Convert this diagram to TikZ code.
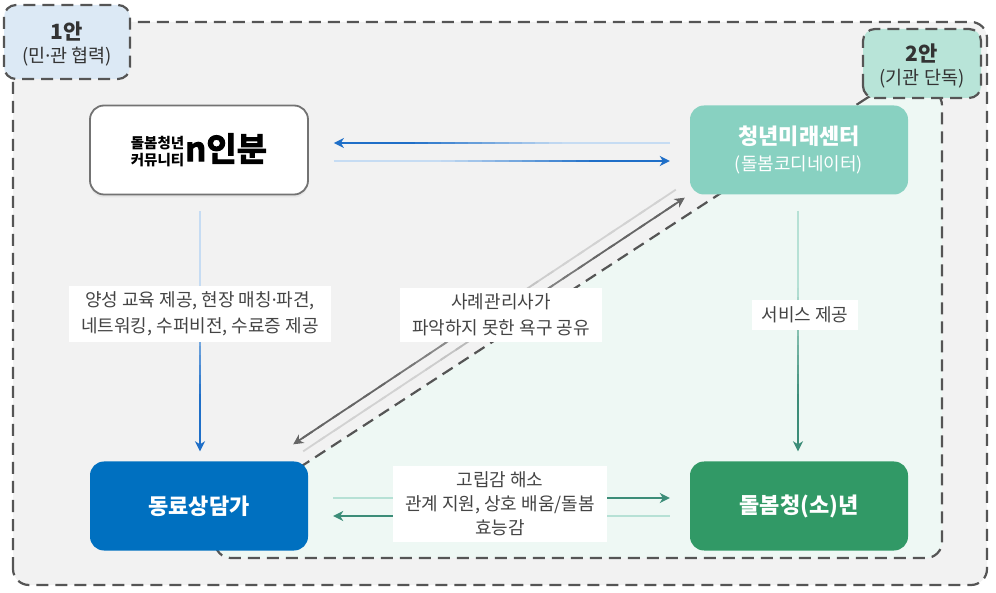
\documentclass[tikz,border=0pt]{standalone}
\usepackage{fontspec}
\setmainfont{Noto Sans CJK KR}
\newfontfamily\logofont{Noto Sans CJK KR Bold}[FakeBold=3]
\newfontfamily\dotfont{Noto Sans}
\usepackage{tikz}
\usetikzlibrary{arrows.meta}
\usetikzlibrary{calc}
\usetikzlibrary{shadows}
\definecolor{zonegray}{HTML}{F2F2F2}
\definecolor{zonemint}{HTML}{EEF8F4}
\definecolor{dashgray}{HTML}{555555}
\definecolor{tagblue}{HTML}{DCE9F5}
\definecolor{tagmint}{HTML}{B8E4D8}
\definecolor{centermint}{HTML}{88D1C1}
\definecolor{peerblue}{HTML}{0070C0}
\definecolor{youthgreen}{HTML}{319966}
\definecolor{labelgray}{HTML}{444444}
\definecolor{bluelight}{HTML}{C6DCF3}
\definecolor{bluedark}{HTML}{1F6FC8}
\definecolor{teallight}{HTML}{B6E1D5}
\definecolor{tealdark}{HTML}{3C8D78}
\definecolor{graylight}{HTML}{D2D2D2}
\definecolor{graydark}{HTML}{666666}
\newcommand{\mdot}{{\dotfont ·}}
\tikzset{zone/.style={draw=dashgray, line width=2.2pt, dash pattern=on 12pt off 7pt, rounded corners=16pt}}
\tikzset{tag/.style={zone, rounded corners=12pt}}
\tikzset{tagtext/.style={text=black!80, align=center, inner sep=0pt}}
\tikzset{box/.style={rounded corners=14pt, minimum width=218pt, minimum height=89pt, inner sep=0pt, align=center, text=white}}
\tikzset{lbl/.style={fill=white, text=labelgray, align=center, inner xsep=12pt, inner ysep=6pt, font=\fontsize{18}{26}\selectfont}}
% gradient connector: from, to, light colour, dark colour
\newcommand{\fadearrow}[4]{
  \foreach \i in {0,...,23}{
    \pgfmathsetmacro\ta{\i/25}
    \pgfmathsetmacro\tb{(\i+1.4)/25}
    \pgfmathsetmacro\mix{max(0,min(100,(\i/25-0.3)*220))}
    \draw[line width=1.8pt, color=#4!\mix!#3] ($(#1)!\ta!(#2)$) -- ($(#1)!\tb!(#2)$);
  }
  \draw[line width=1.8pt, color=#4, -{Stealth[length=10pt,width=10pt,inset=3pt]}]
    ($(#1)!0.95!(#2)$) -- (#2);
}

\begin{document}
\begin{tikzpicture}[x=1pt,y=1pt]
  \useasboundingbox (0,0) rectangle (996,592);
  % zones
  \filldraw[zone, fill=zonegray] (13,7) rectangle (987,570);
  \filldraw[zone, fill=zonemint] (880,502.5) -- (215,69.5) -- (215,34)
    -- (942,34) -- (942,502.5) -- cycle;
  \filldraw[tag, fill=tagblue] (4,513) rectangle (130,587);
  \filldraw[tag, fill=tagmint] (863,494) rectangle (981,563);
  \node[tagtext] (tag1) at (67,548)
    {{\bfseries\fontsize{21}{24}\selectfont 1안}\\[5pt]{\fontsize{18.5}{22}\selectfont (민\mdot 관 협력)}};
  \node[tagtext] (tag2) at (922,526)
    {{\bfseries\fontsize{21}{24}\selectfont 2안}\\[5pt]{\fontsize{18.5}{22}\selectfont (기관 단독)}};
  % actors
  \node[box, fill=white, draw=black!55, line width=1.8pt, text=black,
    drop shadow={shadow xshift=0pt, shadow yshift=-3pt, opacity=0.10}] (nbun) at (199,442)
    {{\bfseries\fontsize{14.5}{16}\selectfont\raisebox{-4pt}{\shortstack[l]{돌봄청년\\커뮤니티}}}\hspace{1pt}{\logofont\fontsize{33}{33}\selectfont n인분}};
  \node[box, fill=centermint] (cy) at (799,442)
    {{\bfseries\fontsize{22}{26}\selectfont 청년미래센터}\\[8pt]{\fontsize{18}{22}\selectfont (돌봄코디네이터)}};
  \node[box, fill=peerblue] (peer) at (199,86)
    {\bfseries\fontsize{22}{26}\selectfont 동료상담가};
  \node[box, fill=youthgreen] (youth) at (799,86)
    {\bfseries\fontsize{22}{26}\selectfont 돌봄청(소)년};
  % connectors
  \fadearrow{$(cy.west)+(-20,7)$}{$(nbun.east)+(25,7)$}{bluelight}{bluedark}
  \fadearrow{$(nbun.east)+(25,-11)$}{$(cy.west)+(-20,-11)$}{bluelight}{bluedark}
  \fadearrow{$(nbun.south)+(1,-16)$}{$(peer.north)+(1,10)$}{bluelight}{bluedark}
  \fadearrow{$(cy.south)+(-1,-16)$}{$(youth.north)+(-1,10)$}{teallight}{tealdark}
  \fadearrow{$(peer.east)+(25,8)$}{$(youth.west)+(-20,8)$}{teallight}{tealdark}
  \fadearrow{$(youth.west)+(-20,-10)$}{$(peer.east)+(25,-10)$}{teallight}{tealdark}
  \fadearrow{$(cy.south west)+(-14,5)$}{$(peer.north east)+(-15,17)$}{graylight}{graydark}
  \fadearrow{$(peer.north east)+(-5,10)$}{$(cy.south west)+(-5,-3)$}{graylight}{graydark}
  % labels
  \node[lbl] (train) at (200,278) {양성 교육 제공, 현장 매칭\mdot 파견,\\네트워킹, 수퍼비전, 수료증 제공};
  \node[lbl, minimum width=201pt] (share) at (501,277) {사례관리사가\\파악하지 못한 욕구 공유};
  \node[lbl, inner xsep=10pt, inner ysep=7pt] (serve) at (805,277) {서비스 제공};
  \node[lbl, minimum width=207pt, font=\fontsize{18}{24}\selectfont] (mutual) at (500,88) {고립감 해소\\관계 지원, 상호 배움/돌봄\\효능감};
\end{tikzpicture}
\end{document}
